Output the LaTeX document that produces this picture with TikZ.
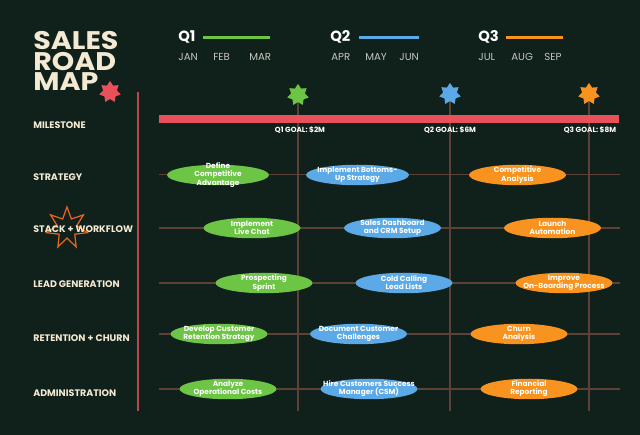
\documentclass[tikz,border=0pt]{standalone}
\usepackage{fontspec}
\setmainfont{Poppins}
\newfontfamily\titlefont{Poppins}[FakeStretch=1.12]
\usetikzlibrary{shapes.geometric}
\definecolor{bgdark}{HTML}{10201B}
\definecolor{cream}{HTML}{F4EAD3}
\definecolor{mgreen}{HTML}{6DC545}
\definecolor{mblue}{HTML}{5BA9E6}
\definecolor{morange}{HTML}{F7931E}
\definecolor{mred}{HTML}{E8505A}
\definecolor{gridbrown}{HTML}{5E4036}
\definecolor{monthgray}{HTML}{C6C6BE}
\definecolor{starorange}{HTML}{E8661E}
\tikzset{
  task/.style={ellipse, fill=#1, minimum width=1.94cm, minimum height=0.41cm, inner sep=0pt},
  tasktext/.style={text=white, align=center, inner sep=0pt, font=\bfseries\fontsize{4.2}{4.6}\selectfont},
  rowlabel/.style={anchor=west, text=cream, inner sep=0pt, font=\bfseries\fontsize{5.4}{6}\selectfont},
  month/.style={anchor=base west, text=monthgray, inner sep=0pt, font=\fontsize{5.8}{6}\selectfont},
  quarter/.style={anchor=base west, text=white, inner sep=0pt, font=\bfseries\fontsize{8.4}{9}\selectfont},
  badge/.style={star, star points=7, star point ratio=1.55, fill=#1, minimum size=0.44cm, inner sep=0pt},
  goal/.style={anchor=base, text=white, inner sep=0pt, font=\bfseries\fontsize{4.2}{5}\selectfont},
  gridline/.style={gridbrown, line width=0.6pt},
}
\begin{document}
\begin{tikzpicture}[x=0.02cm, y=-0.02cm]
  % background
  \fill[bgdark] (0,0) rectangle (640,435);
  \useasboundingbox (0,0) rectangle (640,435);

  % title
  \node[anchor=north west, text=cream, inner sep=0pt, align=left,
        font=\titlefont\bfseries\fontsize{14.5}{11.4}\selectfont] (T) at (33,31.5) {SALES\\ROAD\\MAP};
  \node[badge=mred] (S0) at (110,92) {};

  % quarters and months
  \node[quarter] (Q1) at (178,42) {Q1};
  \node[quarter] (Q2) at (330,42) {Q2};
  \node[quarter] (Q3) at (478,42) {Q3};
  \coordinate (Q1a) at (203,37.5); \coordinate (Q1b) at (270,37.5);
  \coordinate (Q2a) at (359,37.5); \coordinate (Q2b) at (419,37.5);
  \coordinate (Q3a) at (506,37.5); \coordinate (Q3b) at (563,37.5);
  \draw[mgreen, line width=1.7pt] (Q1a) -- (Q1b);
  \draw[mblue, line width=1.7pt] (Q2a) -- (Q2b);
  \draw[morange, line width=1.7pt] (Q3a) -- (Q3b);
  \node[month] (jan) at (178,61) {JAN};
  \node[month] (feb) at (213,61) {FEB};
  \node[month] (mar) at (249,61) {MAR};
  \node[month] (apr) at (331,61) {APR};
  \node[month] (may) at (365,61) {MAY};
  \node[month] (jun) at (399,61) {JUN};
  \node[month] (jul) at (478,61) {JUL};
  \node[month] (aug) at (511,61) {AUG};
  \node[month] (sep) at (544,61) {SEP};

  % left axis
  \coordinate (Ltop) at (138,92);
  \coordinate (Lbot) at (138,411);
  \draw[mred!80!bgdark, line width=0.6pt] (Ltop) -- (Lbot);

  % quarter end stems
  \coordinate (S1) at (298,95); \coordinate (E1) at (298,411);
  \coordinate (S2) at (450,94); \coordinate (E2) at (450,411);
  \coordinate (S3) at (589,94); \coordinate (E3) at (589,411);
  \draw[gridline] (S1) -- (E1);
  \draw[gridline] (S2) -- (E2);
  \draw[gridline] (S3) -- (E3);

  % row lines
  \foreach \y/\n in {174.5/R1, 228/R2, 283/R3, 334/R4, 389/R5} {
    \coordinate (\n a) at (159,\y);
    \coordinate (\n b) at (620,\y);
    \draw[gridline] (\n a) -- (\n b);
  }

  % milestone bar and stars
  \fill[mred] (159,115) rectangle (619,123);
  \node[badge=mgreen] (M1) at (S1) {};
  \node[badge=mblue] (M2) at (S2) {};
  \node[badge=morange] (M3) at (S3) {};
  \node[goal] (G1) at (300,132.5) {Q1 GOAL: \$2M};
  \node[goal] (G2) at (450,132.5) {Q2 GOAL: \$6M};
  \node[goal] (G3) at (590,132.5) {Q3 GOAL: \$8M};

  % row labels
  \node[star, star points=7, star point ratio=2.1, draw=starorange, line width=0.7pt,
        minimum size=0.84cm, inner sep=0pt] (W0) at (67,228) {};
  \node[rowlabel] (L1) at (33,125) {MILESTONE};
  \node[rowlabel] (L2) at (33,177) {STRATEGY};
  \node[rowlabel] (L3) at (33,229) {STACK + WORKFLOW};
  \node[rowlabel] (L4) at (33,284) {LEAD GENERATION};
  \node[rowlabel] (L5) at (33,338) {RETENTION + CHURN};
  \node[rowlabel] (L6) at (33,393) {ADMINISTRATION};

  % tasks
  \node[task=mgreen, minimum width=2.04cm, label={[tasktext]center:{Define\\Competitive\\Advantage}}] (a1) at (218,175) {};
  \node[task=mblue, minimum width=2.06cm, label={[tasktext]center:{Implement Bottoms-\\Up Strategy}}] (b1) at (357.5,175) {};
  \node[task=morange, label={[tasktext]center:{Competitive\\Analysis}}] (c1) at (517.5,175) {};

  \node[task=mgreen, label={[tasktext]center:{Implement\\Live Chat}}] (a2) at (252,228) {};
  \node[task=mblue, label={[tasktext]center:{Sales Dashboard\\and CRM Setup}}] (b2) at (392.5,228) {};
  \node[task=morange, label={[tasktext]center:{Launch\\Automation}}] (c2) at (552.5,228) {};

  \node[task=mgreen, label={[tasktext]center:{Prospecting\\Sprint}}] (a3) at (264,283) {};
  \node[task=mblue, label={[tasktext]center:{Cold Calling\\Lead Lists}}] (b3) at (404,283) {};
  \node[task=morange, label={[tasktext]center:{Improve\\On-Boarding Process}}] (c3) at (564,283) {};

  \node[task=mgreen, label={[tasktext]center:{Develop Customer\\Retention Strategy}}] (a4) at (219,334) {};
  \node[task=mblue, label={[tasktext]center:{Document Customer\\Challenges}}] (b4) at (358.5,334) {};
  \node[task=morange, label={[tasktext]center:{Churn\\Analysis}}] (c4) at (519,334) {};

  \node[task=mgreen, label={[tasktext]center:{Analyze\\Operational Costs}}] (a5) at (228,389) {};
  \node[task=mblue, label={[tasktext]center:{Hire Customers Success\\Manager (CSM)}}] (b5) at (369,389) {};
  \node[task=morange, label={[tasktext]center:{Financial\\Reporting}}] (c5) at (529,389) {};
\end{tikzpicture}
\end{document}
